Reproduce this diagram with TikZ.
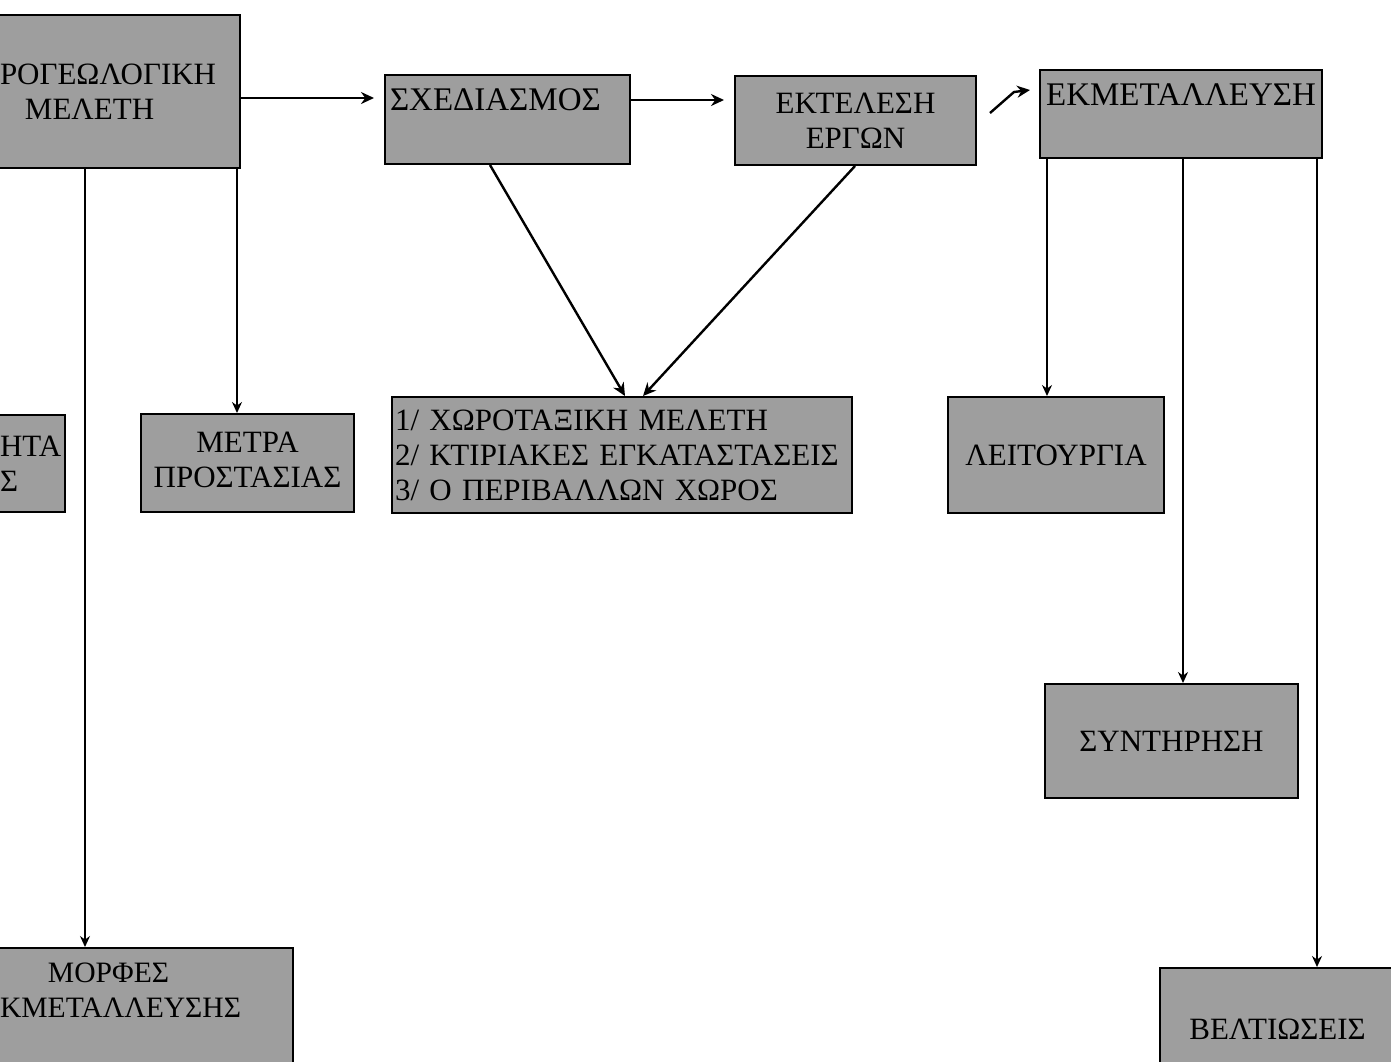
\documentclass[tikz,border=0pt]{standalone}
\usepackage{fontspec}
\setmainfont{Liberation Serif}
\usetikzlibrary{arrows.meta,calc}
\begin{document}
\begin{tikzpicture}[x=0.5pt,y=-0.5pt,
 box/.style={draw=black, line width=1pt, fill=black!38, inner sep=0pt,
   font=\fontsize{15.5}{17.5}\selectfont, align=center},
 ln/.style={line width=0.8pt,-{Stealth[length=5.5pt,width=5pt]}},
 arr/.style={line width=1.2pt,-{Stealth[length=6.5pt,width=6pt]}},
]
\useasboundingbox (0,0) rectangle (1391,1061);
\clip (0,0) rectangle (1391,1061);
\fill[white] (0,0) rectangle (1391,1061);

% boxes
\node[box, minimum height=76.5pt, text width=110pt, inner xsep=10pt, align=left] (A) at (110,91.5)
  {ΡΟΓΕΩΛΟΓΙΚΗ\\\hspace*{12.5pt}ΜΕΛΕΤΗ};
\node[box, minimum height=44.5pt, text width=117.5pt, inner xsep=2.5pt, align=left, text depth=19.5pt,
  font=\fontsize{16.5}{18}\selectfont] (B) at (507.5,119.5)
  {ΣΧΕΔΙΑΣΜΟΣ};
\node[box, minimum width=120.5pt, minimum height=44.5pt] (C) at (855.5,120.5)
  {ΕΚΤΕΛΕΣΗ\\ΕΡΓΩΝ};
\node[box, minimum width=141pt, minimum height=44pt, text depth=19pt,
  font=\fontsize{16.5}{18}\selectfont] (D) at (1181,114)
  {ΕΚΜΕΤΑΛΛΕΥΣΗ};
\node[box, minimum width=108pt, minimum height=58pt] (L) at (1056,455)
  {ΛΕΙΤΟΥΡΓΙΑ};
\node[box, minimum width=126.5pt, minimum height=57pt] (S) at (1171.5,741)
  {ΣΥΝΤΗΡΗΣΗ};
\node[box, minimum width=117.5pt, minimum height=61pt] (V) at (1277.5,1029)
  {ΒΕΛΤΙΩΣΕΙΣ};
\node[box, minimum width=106.5pt, minimum height=49pt, text depth=3pt] (P) at (247.5,463)
  {ΜΕΤΡΑ\\ΠΡΟΣΤΑΣΙΑΣ};
\node[box, minimum height=48.5pt, text width=27.5pt, inner xsep=5pt, align=left] (H) at (27.5,463.5)
  {ΗΤΑ\\Σ};
\node[box, minimum height=58pt, text width=227pt, inner xsep=1.5pt, align=left] (E) at (622,455)
  {1/ ΧΩΡΟΤΑΞΙΚΗ ΜΕΛΕΤΗ\\2/ ΚΤΙΡΙΑΚΕΣ ΕΓΚΑΤΑΣΤΑΣΕΙΣ\\3/ Ο ΠΕΡΙΒΑΛΛΩΝ ΧΩΡΟΣ};
\node[box, minimum height=71pt, text width=126.5pt, inner xsep=20pt, align=left, text depth=46pt,
  font=\fontsize{14.8}{17.5}\selectfont] (M) at (126.5,1019)
  {\hspace*{24pt}ΜΟΡΦΕΣ\\ΚΜΕΤΑΛΛΕΥΣΗΣ};

% connectors
\draw[arr, shorten >=5pt] (A.east |- 0,98) -- (B.west |- 0,98);
\draw[arr, shorten >=5pt] (B.east |- 0,100) -- (C.west |- 0,100);
\coordinate (k1) at (990,113);
\coordinate (k2) at (1030,90);
\draw[arr] (k1) -- (1014,92) -- (k2);

\draw[arr] (B.south -| 490,0) -- (E.north -| 625,0);
\draw[arr] (C.south -| 855,0) -- (E.north -| 643,0);

\draw[ln] (A.south -| 85,0) -- (M.north -| 85,0);
\draw[ln] (A.south -| 237,0) -- (P.north -| 237,0);

\draw[ln] (D.south -| 1047,0) -- (L.north -| 1047,0);
\draw[ln] (D.south -| 1183,0) -- (S.north -| 1183,0);
\draw[ln] (D.south -| 1317,0) -- (V.north -| 1317,0);
\end{tikzpicture}
\end{document}
